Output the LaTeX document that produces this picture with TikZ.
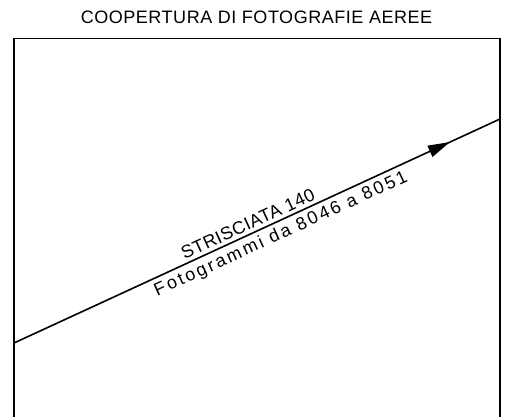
\documentclass[tikz,border=0pt]{standalone}
\usepackage{fontspec}
\newfontfamily\cadfont[LetterSpace=3]{Liberation Sans}
\newfontfamily\cadwide[LetterSpace=14]{Liberation Sans}
\usetikzlibrary{arrows.meta,decorations.markings}
\begin{document}
\begin{tikzpicture}[x=1pt,y=-1pt,
  cad/.style={font=\cadfont\fontsize{18}{18}\selectfont,inner sep=1pt},
  cadwide/.style={font=\cadwide\fontsize{18}{18}\selectfont,inner sep=1pt}]
\useasboundingbox (0,0) rectangle (529,416);
\node[cad] (title) at (256.5,17.5) {COOPERTURA DI FOTOGRAFIE AEREE};
% frame, open at the bottom
\draw[line width=1.2pt] (14,420) -- (14,38.5) -- (500,38.5) -- (500,420);
\coordinate (in) at (14,343);
\coordinate (out) at (500,119);
\draw[line width=1.6pt,postaction={decorate},
  decoration={markings,mark=at position 0.897 with {\arrow{Triangle[length=22pt,width=12pt]}}}]
  (in) -- (out)
  node[cad,pos=0.49,sloped,above=2pt] (strip) {STRISCIATA 140}
  node[cadwide,pos=0.538,sloped,below=3pt] (frames) {Fotogrammi da 8046 a 8051};
\end{tikzpicture}
\end{document}
